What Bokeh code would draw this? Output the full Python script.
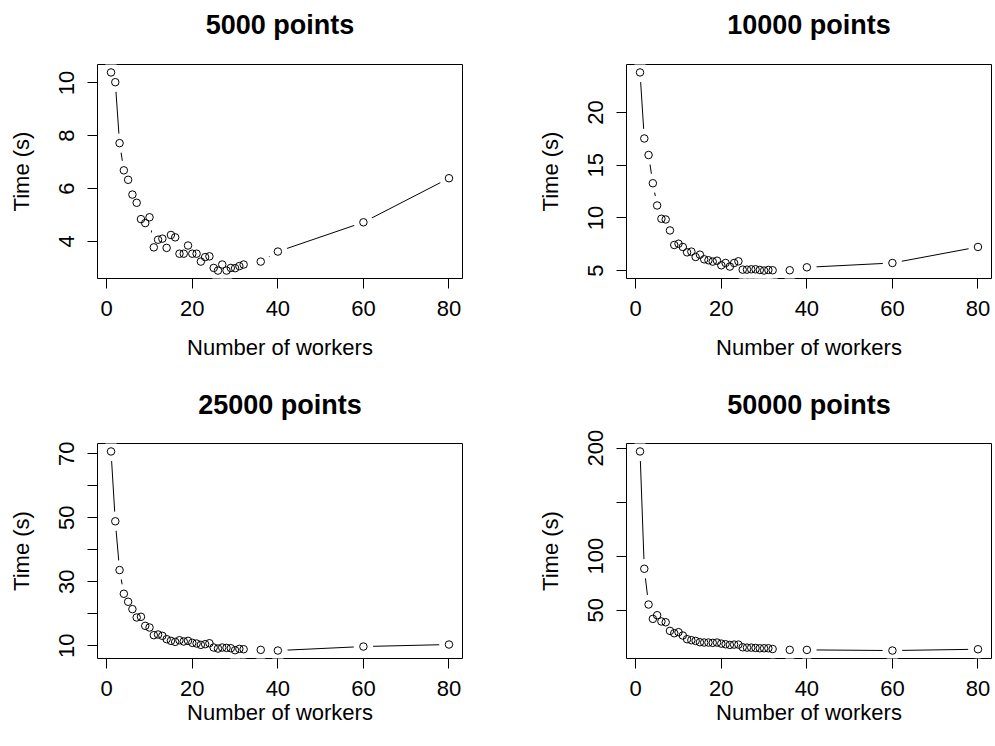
from bokeh.plotting import figure
from bokeh.layouts import column, row
from bokeh.models import Range1d, FixedTicker, ColumnDataSource, LinearAxis
from bokeh.embed import file_html
from bokeh.resources import INLINE

workers = list(range(1, 33)) + [36, 40, 60, 80]

t5000 = [10.40, 10.03, 7.72, 6.69, 6.33, 5.77, 5.46, 4.84, 4.69, 4.91,
         3.77, 4.06, 4.10, 3.75, 4.24, 4.15, 3.53, 3.53, 3.84, 3.53,
         3.53, 3.23, 3.40, 3.43, 2.99, 2.89, 3.12, 2.89, 2.99, 2.98,
         3.06, 3.12, 3.23, 3.61, 4.72, 6.39]

t10000 = [23.81, 17.54, 15.97, 13.29, 11.18, 9.92, 9.85, 8.81, 7.43, 7.55,
          7.24, 6.73, 6.80, 6.29, 6.51, 6.07, 5.98, 5.85, 5.94, 5.50,
          5.72, 5.38, 5.72, 5.88, 5.09, 5.09, 5.12, 5.12, 5.06, 5.00,
          5.06, 5.03, 5.03, 5.31, 5.72, 7.24]

t25000 = [70.73, 48.91, 33.67, 26.26, 23.76, 21.46, 18.85, 19.06, 16.24, 15.72,
          13.32, 13.53, 13.11, 12.07, 11.55, 11.23, 11.75, 11.34, 11.55, 10.92,
          10.71, 10.29, 10.50, 10.81, 9.46, 9.14, 9.46, 9.35, 9.25, 8.62,
          9.04, 8.93, 8.73, 8.52, 9.77, 10.40]

t50000 = [196.9, 88.3, 55.2, 41.9, 45.3, 39.5, 38.8, 30.8, 28.6, 29.6,
          26.5, 23.1, 22.2, 21.5, 20.3, 20.0, 20.0, 19.7, 20.0, 19.0,
          18.4, 17.8, 18.1, 18.1, 15.6, 15.3, 15.3, 15.0, 14.7, 14.7,
          14.7, 14.0, 13.2, 13.2, 12.6, 13.8]

titles = ["5000 points", "10000 points", "25000 points", "50000 points"]
x_ticks = [0, 20, 40, 60, 80]
y_ticks_5000 = [4, 6, 8, 10]
y_ticks_10000 = [5, 10, 15, 20]
y_ticks_25000 = [10, 20, 30, 40, 50, 60, 70]
y_labels_hidden_25000 = [20, 40, 60]
y_ticks_50000 = [50, 100, 150, 200]
y_labels_hidden_50000 = [150]

FONT = "Liberation Sans"


def padded(vals):
    lo, hi = min(vals), max(vals)
    d = 0.04 * (hi - lo)
    return Range1d(lo - d, hi + d)


def panel(title, times, yticks, hidden, width, height, bl, br, bt, bb,
          xlab_standoff, title_standoff):
    p = figure(width=width, height=height, output_backend="svg",
               toolbar_location=None, x_range=padded(workers),
               y_range=padded(times), title=None,
               min_border_left=bl, min_border_right=br,
               min_border_top=bt, min_border_bottom=bb)
    p.grid.visible = False
    p.outline_line_color = "black"
    p.outline_line_width = 1
    p.outline_line_alpha = 1
    p.background_fill_color = "white"
    p.border_fill_color = "white"

    xa = p.below[0]
    ya = p.left[0]

    # title drawn as the label of an empty axis above the frame
    tax = LinearAxis(ticker=FixedTicker(ticks=[]), axis_label=title,
                     axis_line_color=None, major_tick_out=0, major_tick_in=0,
                     minor_tick_out=0, minor_tick_in=0,
                     major_tick_line_color=None, minor_tick_line_color=None,
                     major_label_standoff=0,
                     major_label_text_font_size="0px",
                     axis_label_standoff=title_standoff,
                     axis_label_text_font=FONT,
                     axis_label_text_font_size="27px",
                     axis_label_text_font_style="bold",
                     axis_label_text_color="black")
    p.add_layout(tax, "above")

    xa.ticker = FixedTicker(ticks=x_ticks)
    ya.ticker = FixedTicker(ticks=yticks)
    ya.major_label_overrides = {v: "" for v in hidden}
    xa.axis_label = "Number of workers"
    ya.axis_label = "Time (s)"
    ya.major_label_orientation = "vertical"
    for ax in (xa, ya):
        ax.axis_line_color = None
        ax.major_tick_in = 0
        ax.major_tick_out = 10
        ax.major_tick_line_color = "black"
        ax.minor_tick_line_color = None
        ax.major_label_text_font = FONT
        ax.major_label_text_font_size = "22px"
        ax.major_label_text_color = "black"
        ax.axis_label_text_font = FONT
        ax.axis_label_text_font_size = "22px"
        ax.axis_label_text_font_style = "normal"
        ax.axis_label_text_color = "black"
    xa.major_label_standoff = 12
    xa.axis_label_standoff = xlab_standoff
    ya.major_label_standoff = 13
    ya.axis_label_standoff = 23

    src = ColumnDataSource(dict(x=workers, y=times))
    p.line("x", "y", source=src, line_color="black", line_width=1)
    p.scatter("x", "y", source=src, marker="circle", size=19.5,
              fill_color="white", line_color=None)
    p.scatter("x", "y", source=src, marker="circle", size=7.5,
              fill_color=None, line_color="black", line_width=1)
    return p


p1 = panel(titles[0], t5000, y_ticks_5000, [], 497, 373, 97, 35, 64, 95, 16, 25)
p2 = panel(titles[1], t10000, y_ticks_10000, [], 498, 373, 129, 4, 64, 95, 16, 25)
p3 = panel(titles[2], t25000, y_ticks_25000, y_labels_hidden_25000,
           497, 373, 97, 35, 70, 88, 1, 24)
p4 = panel(titles[3], t50000, y_ticks_50000, y_labels_hidden_50000,
           498, 373, 129, 4, 70, 88, 1, 24)

layout = column(row(p1, p2, spacing=0), row(p3, p4, spacing=0), spacing=0)

with open("out.html", "w") as f:
    f.write(file_html(layout, INLINE))
